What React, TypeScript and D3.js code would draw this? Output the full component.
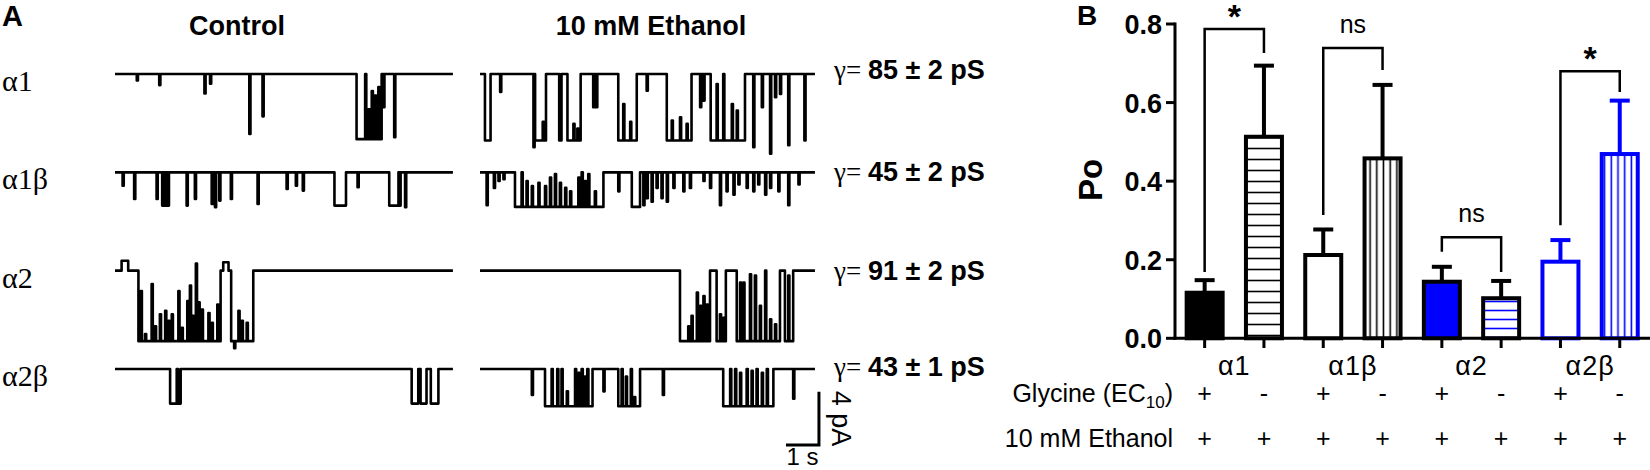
import React from "react";
import * as d3 from "d3";

// ---------- Panel A data ----------
const rowLabels = ["α1", "α1β", "α2", "α2β"];
const conductances = ["85 ± 2 pS", "45 ± 2 pS", "91 ± 2 pS", "43 ± 1 pS"];
const columnTitles = ["Control", "10 mM Ethanol"];

// single-channel events: opens [start s, end s, level], flicks [time s, level]
const ctrlA1Opens: number[][] = [[7.32, 8.08, 1]];
const ctrlA1Flicks: number[][] = [[0.66, 0.1], [1.34, 0.17], [2.71, 0.3], [2.88, 0.15], [4.07, 0.92], [4.47, 0.65], [7.58, 0], [7.68, 0.54], [7.78, 0.26], [7.88, 0.33], [7.98, 0.2], [8.13, 0.51], [8.46, 0.97]];
const ctrlA1bOpens: number[][] = [[6.65, 7.0, 1], [8.31, 8.59, 1]];
const ctrlA1bFlicks: number[][] = [[0.23, 0.4], [0.58, 0.8], [1.26, 0.8], [1.43, 1], [1.49, 1], [1.55, 1], [1.6, 1], [2.17, 1], [2.42, 0.8], [2.93, 0.95], [3.03, 1.05], [3.16, 0.85], [3.51, 0.8], [4.32, 0.95], [5.2, 0.5], [5.48, 0.4], [5.69, 0.55], [7.35, 0.45], [8.62, 1.0], [8.79, 1.05]];
const ctrlA2Opens: number[][] = [[0.2, 0.4, -0.14], [0.71, 3.2, 1], [3.28, 3.44, -0.12], [3.52, 4.19, 1]];
const ctrlA2Flicks: number[][] = [[0.78, 0.29], [0.91, 0.9], [1.11, 0.19], [1.21, 0.79], [1.36, 0.62], [1.52, 0.57], [1.62, 0.71], [1.72, 0.62], [1.92, 0.29], [2.02, 0.81], [2.19, 0.43], [2.27, 0.21], [2.35, 0.64], [2.45, -0.1], [2.53, 0.45], [2.63, 0.55], [2.83, 0.6], [2.93, 0.74], [3.1, 0.48], [3.61, 1.1], [3.74, 0.57], [3.84, 0.71], [3.99, 0.74]];
const ctrlA2bOpens: number[][] = [[1.67, 1.87, 1], [1.92, 1.99, 1], [8.99, 9.19, 1], [9.26, 9.44, 1], [9.57, 9.8, 1]];
const ctrlA2bFlicks: number[][] = [];

const ethA1Opens: number[][] = [[0.15, 0.32, 1], [1.67, 2.0, 1], [2.4, 2.47, 1], [2.65, 3.05, 1], [4.19, 4.75, 1], [5.66, 6.41, 1], [6.99, 8.03, 1]];
const ethA1Flicks: number[][] = [[0.61, 0.27], [1.62, 1.1], [1.9, 0.72], [2.83, 0.75], [2.95, 0.82], [3.43, 0.5], [3.52, 0.5], [4.34, 0.45], [4.55, 0.72], [5.05, 0.25], [5.81, 0.7], [6.06, 0.65], [6.26, 0.75], [6.67, 0.5], [6.77, 0.4], [7.17, 0.15], [7.37, 0], [7.63, 0.45], [7.78, 0.55], [8.28, 1.1], [8.54, 0.5], [8.79, 1.2], [8.94, 0.35], [9.09, 0.3], [9.34, 1.07], [9.83, 1.0]];
const ethA1bOpens: number[][] = [[1.06, 3.74, 1], [4.6, 4.85, 1]];
const ethA1bFlicks: number[][] = [[0.2, 0.95], [0.42, 0.45], [0.56, 0.25], [0.71, 0.2], [1.26, 0], [1.41, 0.25], [1.57, 0.4], [1.77, 0.3], [1.97, 0.4], [2.12, 0.15], [2.27, 0.05], [2.42, 0.3], [2.58, 0.45], [2.73, 0.55], [2.98, 0.15], [3.08, 0], [3.18, 0.25], [3.28, 0.05], [3.48, 0.55], [4.19, 0.55], [4.95, 0.95], [5.05, 0.75], [5.2, 0.85], [5.35, 0.45], [5.5, 0.75], [5.66, 0.85], [5.86, 0.45], [6.16, 0.55], [6.36, 0.45], [6.77, 0.25], [6.97, 0.45], [7.27, 0.95], [7.47, 0.55], [7.68, 0.65], [7.83, 0.35], [8.08, 0.45], [8.28, 0.55], [8.43, 0.35], [8.64, 0.65], [8.79, 0.45], [9.04, 0.55], [9.34, 0.95], [9.65, 0.35]];
const ethA2Opens: number[][] = [[6.06, 6.97, 1], [7.17, 7.45, 1], [7.78, 9.09, 1], [9.24, 9.49, 1]];
const ethA2Flicks: number[][] = [[6.31, 0.79], [6.41, 0.64], [6.57, 0.31], [6.67, 0.5], [6.77, 0.36], [6.87, 0.48], [7.27, 0.62], [7.37, 0.67], [7.88, 0.17], [7.98, 0.17], [8.18, 0.05], [8.33, 0.07], [8.48, 0.5], [8.64, 0.0], [8.79, 0.69], [8.94, 0.76], [9.34, 0.07]];
const ethA2bOpens: number[][] = [[1.97, 3.41, 1], [4.19, 4.85, 1], [7.37, 8.89, 1]];
const ethA2bFlicks: number[][] = [[1.57, 0.7], [2.17, 0], [2.34, 0], [2.47, 0], [2.63, 0.6], [2.88, 0], [2.98, 0.1], [3.08, 0], [3.18, 0.2], [3.25, 0], [3.74, 0.6], [4.29, 0], [4.42, 0.2], [4.57, 0], [4.67, 0.75], [5.54, 0.7], [7.58, 0], [7.73, 0], [7.88, 0.1], [8.08, 0], [8.23, 0.05], [8.38, 0], [8.54, 0.1], [8.69, 0], [9.49, 0.8]];

// amplitudes (pA) and durations (s)
const ctrlAmps = [4.9, 2.5, 5.3, 2.6];
const ethAmps = [5.0, 2.6, 5.3, 2.8];
const ctrlDur = [10.24, 10.24, 10.24, 10.24];
const ethDur = [10.15, 10.15, 10.15, 10.15];

// ---------- Panel B data ----------
const groupNames = ["α1", "α1β", "α2", "α2β"];
const poMeans = [0.116, 0.513, 0.212, 0.458, 0.144, 0.102, 0.195, 0.469];
const poSem = [0.032, 0.181, 0.065, 0.187, 0.038, 0.044, 0.055, 0.136];
const glycineRow = ["+", "-", "+", "-", "+", "-", "+", "-"];
const ethanolRow = ["+", "+", "+", "+", "+", "+", "+", "+"];
const yTicks = [0, 0.2, 0.4, 0.6, 0.8];
const bracketPairs = [[0, 1], [2, 3], [4, 5], [6, 7]];
const bracketTops = [0.787, 0.739, 0.257, 0.68];
const bracketLeftEnds = [0.169, 0.314, 0.22, 0.288];
const bracketRightEnds = [0.726, 0.683, 0.169, 0.627];
const bracketLabels = ["*", "ns", "ns", "*"];

const BLUE = "#0000ff";
const SANS = "'Liberation Sans', Arial, sans-serif";
const SERIF = "'Liberation Serif', 'Times New Roman', serif";

function levels(opens: number[][], flicks: number[][], dur: number): number[][] {
  const ev: { t: number; k: string; l: number }[] = [];
  opens.forEach((o) => {
    ev.push({ t: o[0], k: "o", l: o[2] });
    ev.push({ t: o[1], k: "c", l: 0 });
  });
  flicks.forEach((f) => ev.push({ t: f[0], k: "f", l: f[1] }));
  ev.sort((a, b) => a.t - b.t);
  const pts: number[][] = [[0, 0]];
  let cur = 0;
  const w = 0.035;
  for (const e of ev) {
    if (e.k === "o") {
      pts.push([e.t, cur], [e.t, e.l]);
      cur = e.l;
    } else if (e.k === "c") {
      pts.push([e.t, cur], [e.t, 0]);
      cur = 0;
    } else {
      pts.push([e.t, cur], [e.t, e.l], [e.t + w, e.l], [e.t + w, cur]);
    }
  }
  pts.push([dur, cur]);
  return pts;
}

export default function App() {
  const pxPerS = 33;
  const pxPerPA = 13.3;
  const tScale = d3.scaleLinear().domain([0, 1]).range([0, pxPerS]);
  const rowY = d3.scalePoint<number>().domain([0, 1, 2, 3]).range([74, 369]);
  const ctrlX0 = 115;
  const ethX0 = 480;

  const ctrlTraces = [
    [ctrlA1Opens, ctrlA1Flicks],
    [ctrlA1bOpens, ctrlA1bFlicks],
    [ctrlA2Opens, ctrlA2Flicks],
    [ctrlA2bOpens, ctrlA2bFlicks],
  ];
  const ethTraces = [
    [ethA1Opens, ethA1Flicks],
    [ethA1bOpens, ethA1bFlicks],
    [ethA2Opens, ethA2Flicks],
    [ethA2bOpens, ethA2bFlicks],
  ];

  const tracePath = (opens: number[][], flicks: number[][], dur: number, amp: number, x0: number, y0: number) => {
    const pts = levels(opens, flicks, dur);
    return d3
      .line<number[]>()
      .x((d) => x0 + tScale(d[0]))
      .y((d) => y0 + d[1] * amp * pxPerPA)(pts) as string;
  };

  // Panel B scales
  const x = d3.scaleBand<number>().domain(d3.range(8)).range([1175, 1649.4]).paddingInner(0.393).paddingOuter(0.1965);
  const y = d3.scaleLinear().domain([0, 0.8]).range([338.3, 24]);
  const bw = x.bandwidth();
  const cx = (i: number) => (x(i) as number) + bw / 2;

  const fills = ["#000", "url(#hBlack)", "#fff", "url(#vBlack)", BLUE, "url(#hBlue)", "#fff", "url(#vBlue)"];
  const strokes = ["#000", "#000", "#000", "#000", "#000", "#000", BLUE, BLUE];
  const errColors = ["#000", "#000", "#000", "#000", "#000", "#000", BLUE, BLUE];

  const sbX = ethX0 + tScale(ethDur[0]) + 4;
  const sbBottom = 445;

  return (
    <div style={{ position: "fixed", left: 0, top: 0 }}>
      <svg width={1650} height={470} style={{ display: "block", background: "#fff" }}>
        <defs>
          <pattern id="hBlack" patternUnits="userSpaceOnUse" width={12} height={11}>
            <rect width={12} height={11} fill="#fff" />
            <line x1={0} x2={12} y1={5.5} y2={5.5} stroke="#000" strokeWidth={1.6} />
          </pattern>
          <pattern id="hBlue" patternUnits="userSpaceOnUse" width={12} height={9}>
            <rect width={12} height={9} fill="#fff" />
            <line x1={0} x2={12} y1={4.5} y2={4.5} stroke={BLUE} strokeWidth={1.6} />
          </pattern>
          <pattern id="vBlack" patternUnits="userSpaceOnUse" width={6.7} height={10}>
            <rect width={6.7} height={10} fill="#fff" />
            <line x1={3.3} x2={3.3} y1={0} y2={10} stroke="#000" strokeWidth={1.6} />
          </pattern>
          <pattern id="vBlue" patternUnits="userSpaceOnUse" width={6.7} height={10}>
            <rect width={6.7} height={10} fill="#fff" />
            <line x1={3.3} x2={3.3} y1={0} y2={10} stroke={BLUE} strokeWidth={1.6} />
          </pattern>
        </defs>

        {/* ---------- Panel A ---------- */}
        <text x={2} y={26} fontFamily={SANS} fontWeight="bold" fontSize={29}>A</text>
        <text x={237} y={35} textAnchor="middle" fontFamily={SANS} fontWeight="bold" fontSize={27}>{columnTitles[0]}</text>
        <text x={651} y={35} textAnchor="middle" fontFamily={SANS} fontWeight="bold" fontSize={27}>{columnTitles[1]}</text>

        {rowLabels.map((lab, i) => (
          <text key={lab} x={2} y={(rowY(i) as number) + 17} fontFamily={SERIF} fontSize={30}>{lab}</text>
        ))}

        {ctrlTraces.map((tr, i) => (
          <path key={"c" + i} d={tracePath(tr[0], tr[1], ctrlDur[i], ctrlAmps[i], ctrlX0, rowY(i) as number)}
            fill="none" stroke="#000" strokeWidth={2.6} strokeLinejoin="round" />
        ))}
        {ethTraces.map((tr, i) => (
          <path key={"e" + i} d={tracePath(tr[0], tr[1], ethDur[i], ethAmps[i], ethX0, rowY(i) as number)}
            fill="none" stroke="#000" strokeWidth={2.6} strokeLinejoin="round" />
        ))}

        {conductances.map((c, i) => (
          <text key={c} x={834} y={(rowY(i) as number) + 7 + (i === 0 ? -2 : i === 3 ? 0 : 2)} fontSize={26}>
            <tspan fontFamily={SERIF} fontSize={27}>γ= </tspan>
            <tspan fontFamily={SANS} fontWeight="bold" fontSize={27}>{c}</tspan>
          </text>
        ))}

        {/* scale bar */}
        <path d={`M${sbX - tScale(1)},${sbBottom} H${sbX} V${sbBottom - 4 * pxPerPA}`} fill="none" stroke="#000" strokeWidth={3} />
        <text x={sbX - tScale(1) / 2} y={465} textAnchor="middle" fontFamily={SANS} fontSize={24}>1 s</text>
        <text transform={`translate(${sbX + 13},${sbBottom - 2 * pxPerPA}) rotate(90)`} textAnchor="middle"
          fontFamily={SANS} fontSize={27}>4 pA</text>

        {/* ---------- Panel B ---------- */}
        <text x={1077} y={25} fontFamily={SANS} fontWeight="bold" fontSize={28}>B</text>
        <text transform="translate(1090,180) rotate(-90)" textAnchor="middle" dominantBaseline="central"
          fontFamily={SANS} fontWeight="bold" fontSize={33}>Po</text>

        {yTicks.map((t) => (
          <g key={t}>
            <line x1={1166} x2={1175} y1={y(t)} y2={y(t)} stroke="#000" strokeWidth={3} />
            <text x={1162} y={y(t) + 1} textAnchor="end" dominantBaseline="central" fontFamily={SANS}
              fontWeight="bold" fontSize={27}>{d3.format(".1f")(t)}</text>
          </g>
        ))}

        {poMeans.map((m, i) => (
          <g key={"bar" + i}>
            <line x1={cx(i)} x2={cx(i)} y1={y(m)} y2={y(m + poSem[i])} stroke={errColors[i]} strokeWidth={4} />
            <line x1={cx(i) - 10} x2={cx(i) + 10} y1={y(m + poSem[i])} y2={y(m + poSem[i])} stroke={errColors[i]} strokeWidth={4} />
            <rect x={x(i)} y={y(m)} width={bw} height={y(0) - y(m)} fill={fills[i]} stroke={strokes[i]} strokeWidth={4} />
          </g>
        ))}

        <line x1={1175} x2={1175} y1={22.5} y2={339.8} stroke="#000" strokeWidth={3} />
        <line x1={1173.5} x2={1650} y1={338.3} y2={338.3} stroke="#000" strokeWidth={3} />
        {poMeans.map((_, i) => (
          <line key={"xt" + i} x1={cx(i)} x2={cx(i)} y1={338.3} y2={348} stroke="#000" strokeWidth={3} />
        ))}

        {bracketPairs.map((p, k) => (
          <g key={"br" + k}>
            <path d={`M${cx(p[0])},${y(bracketLeftEnds[k])} V${y(bracketTops[k])} H${cx(p[1])} V${y(bracketRightEnds[k])}`}
              fill="none" stroke="#000" strokeWidth={2.5} />
            {bracketLabels[k] === "*" ? (
              <text x={(cx(p[0]) + cx(p[1])) / 2} y={y(bracketTops[k]) - 1} textAnchor="middle" fontFamily={SANS}
                fontWeight="bold" fontSize={34}>*</text>
            ) : (
              <text x={(cx(p[0]) + cx(p[1])) / 2} y={y(bracketTops[k]) - 15} textAnchor="middle" fontFamily={SANS}
                fontSize={25}>ns</text>
            )}
          </g>
        ))}

        {groupNames.map((g, k) => (
          <text key={g} x={(cx(2 * k) + cx(2 * k + 1)) / 2} y={375} textAnchor="middle" fontFamily={SANS}
            fontSize={27} letterSpacing={1}>{g}</text>
        ))}

        <text x={1173} y={402} textAnchor="end" fontFamily={SANS} fontSize={25}>
          Glycine (EC<tspan fontSize={17} dy={6}>10</tspan><tspan dy={-6}>)</tspan>
        </text>
        <text x={1173} y={447} textAnchor="end" fontFamily={SANS} fontSize={25}>10 mM Ethanol</text>
        {glycineRow.map((s, i) => (
          <text key={"g" + i} x={cx(i)} y={402} textAnchor="middle" fontFamily={SANS} fontSize={25}>{s}</text>
        ))}
        {ethanolRow.map((s, i) => (
          <text key={"e" + i} x={cx(i)} y={447} textAnchor="middle" fontFamily={SANS} fontSize={25}>{s}</text>
        ))}
      </svg>
    </div>
  );
}
